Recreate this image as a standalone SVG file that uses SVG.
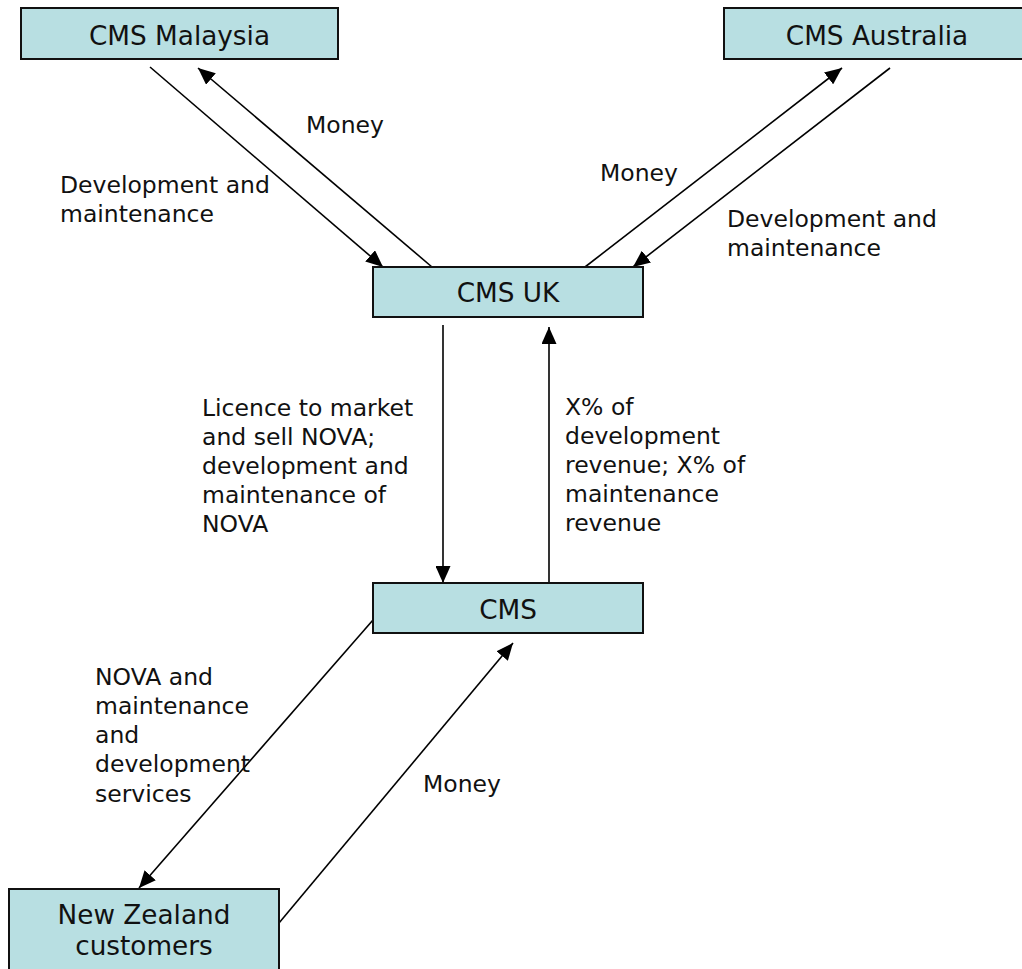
<svg xmlns="http://www.w3.org/2000/svg" width="1022" height="969" viewBox="0 0 1022 969">
<style>
.box{fill:#b8dfe2;stroke:#111;stroke-width:2}
.bt{font-family:"DejaVu Sans",Verdana,sans-serif;font-size:26.3px;fill:#111;text-anchor:middle}
.lb{font-family:"DejaVu Sans",Verdana,sans-serif;font-size:23.5px;fill:#111}
.ln{stroke:#000;stroke-width:1.6;fill:none;marker-end:url(#ah)}
</style>
<defs>
<marker id="ah" markerUnits="userSpaceOnUse" markerWidth="17" markerHeight="15" refX="17" refY="7.5" orient="auto">
<path d="M0,0 L17,7.5 L0,15 Z" fill="#000"/>
</marker>
</defs>
<rect width="1022" height="969" fill="#fff"/>
<g id="connectors">
<line class="ln" x1="150" y1="67" x2="383" y2="267"/>
<line class="ln" x1="432" y1="267" x2="198" y2="68"/>
<line class="ln" x1="585" y1="267" x2="842" y2="68"/>
<line class="ln" x1="890" y1="68" x2="633" y2="267"/>
<line class="ln" x1="443" y1="325" x2="443" y2="583"/>
<line class="ln" x1="549" y1="583" x2="549" y2="327"/>
<line class="ln" x1="373" y1="620" x2="139" y2="888"/>
<line class="ln" x1="279" y1="923" x2="513" y2="643"/>
</g>
<g id="labels">
<text class="lb" x="306" y="133">Money</text>
<text class="lb" x="60" y="193">Development and</text>
<text class="lb" x="60" y="222">maintenance</text>
<text class="lb" x="600" y="181">Money</text>
<text class="lb" x="727" y="227">Development and</text>
<text class="lb" x="727" y="256">maintenance</text>
<text class="lb" x="202" y="416">Licence to market</text>
<text class="lb" x="202" y="445">and sell NOVA;</text>
<text class="lb" x="202" y="474">development and</text>
<text class="lb" x="202" y="503">maintenance of</text>
<text class="lb" x="202" y="532">NOVA</text>
<text class="lb" x="565" y="415">X% of</text>
<text class="lb" x="565" y="444">development</text>
<text class="lb" x="565" y="473">revenue; X% of</text>
<text class="lb" x="565" y="502">maintenance</text>
<text class="lb" x="565" y="531">revenue</text>
<text class="lb" x="95" y="685">NOVA and</text>
<text class="lb" x="95" y="714">maintenance</text>
<text class="lb" x="95" y="743">and</text>
<text class="lb" x="95" y="772">development</text>
<text class="lb" x="95" y="802">services</text>
<text class="lb" x="423" y="792">Money</text>
</g>
<g id="cms-malaysia">
<rect class="box" x="21" y="8" width="317" height="51"/>
<text class="bt" x="179.5" y="45">CMS Malaysia</text>
</g>
<g id="cms-australia">
<rect class="box" x="724" y="8" width="310" height="51"/>
<text class="bt" x="877" y="45">CMS Australia</text>
</g>
<g id="cms-uk">
<rect class="box" x="373" y="267" width="270" height="50"/>
<text class="bt" x="508" y="302">CMS UK</text>
</g>
<g id="cms">
<rect class="box" x="373" y="583" width="270" height="50"/>
<text class="bt" x="508" y="619">CMS</text>
</g>
<g id="nz-customers">
<rect class="box" x="9" y="889" width="270" height="100"/>
<text class="bt" x="144" y="924">New Zealand</text>
<text class="bt" x="144" y="955">customers</text>
</g>
</svg>
